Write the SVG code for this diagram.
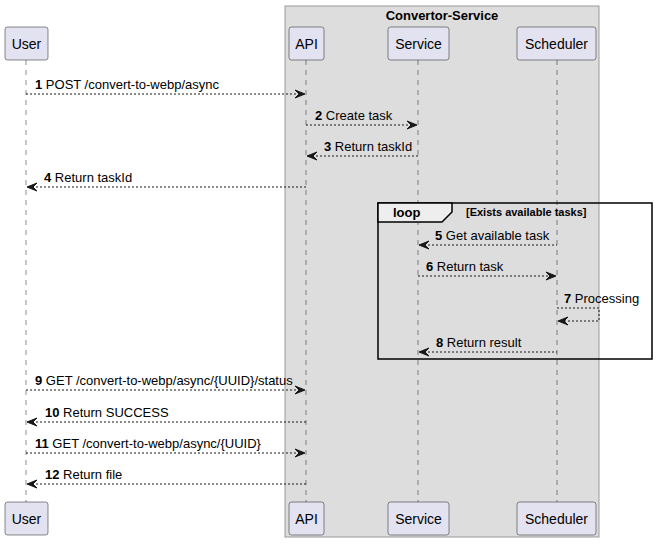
<svg xmlns="http://www.w3.org/2000/svg" width="656" height="544" viewBox="0 0 656 544">
<style>
text{font-family:"Liberation Sans",Arial,sans-serif;fill:#000}
.pbox{fill:#E2E2F0;stroke:#181818;stroke-width:0.5}
.pname{font-size:14px;text-anchor:middle}
.life{stroke:#181818;stroke-width:0.5;stroke-dasharray:5,5;fill:none}
.msg{stroke:#181818;stroke-width:1;stroke-dasharray:2,2;fill:none}
.head{fill:#181818;stroke:#181818;stroke-width:1}
.lbl{font-size:13px}
.num{font-weight:bold}
</style>
<rect width="656" height="544" fill="#FFFFFF"/>
<g id="box-convertor-service">
<rect x="285" y="6" width="314" height="531" fill="#DDDDDD" stroke="#999999" stroke-width="1"/>
<text x="442" y="20" font-size="13" font-weight="bold" text-anchor="middle">Convertor-Service</text>
</g>
<g id="lifelines">
<line class="life" x1="26" y1="60" x2="26" y2="502"/>
<line class="life" x1="306" y1="60" x2="306" y2="502"/>
<line class="life" x1="418" y1="60" x2="418" y2="502"/>
<line class="life" x1="557" y1="60" x2="557" y2="502"/>
</g>
<g id="user">
<rect class="pbox" x="5" y="27" width="43" height="33" rx="2.5"/>
<text class="pname" x="26.5" y="48.5">User</text>
<rect class="pbox" x="5" y="502" width="43" height="33" rx="2.5"/>
<text class="pname" x="26.5" y="523.5">User</text>
</g>
<g id="api">
<rect class="pbox" x="289" y="27" width="35" height="33" rx="2.5"/>
<text class="pname" x="306.5" y="48.5">API</text>
<rect class="pbox" x="289" y="502" width="35" height="33" rx="2.5"/>
<text class="pname" x="306.5" y="523.5">API</text>
</g>
<g id="service">
<rect class="pbox" x="388" y="27" width="61" height="33" rx="2.5"/>
<text class="pname" x="418.5" y="48.5">Service</text>
<rect class="pbox" x="388" y="502" width="61" height="33" rx="2.5"/>
<text class="pname" x="418.5" y="523.5">Service</text>
</g>
<g id="scheduler">
<rect class="pbox" x="517" y="27" width="79" height="33" rx="2.5"/>
<text class="pname" x="556.5" y="48.5">Scheduler</text>
<rect class="pbox" x="517" y="502" width="79" height="33" rx="2.5"/>
<text class="pname" x="556.5" y="523.5">Scheduler</text>
</g>
<g id="loop">
<rect x="378" y="203" width="274" height="156" fill="none" stroke="#000000" stroke-width="1.5"/>
<polygon points="378,203 452,203 452,212 442,222 378,222" fill="#EEEEEE" stroke="#000000" stroke-width="1.5"/>
<text x="393" y="217" font-size="13" font-weight="bold">loop</text>
<text x="466" y="216" font-size="11" font-weight="bold">[Exists available tasks]</text>
</g>
<g id="connectors">
<!-- 1 -->
<line class="msg" x1="26" y1="94" x2="304" y2="94"/>
<polygon class="head" points="295,90 305,94 295,98 299,94"/>
<text class="lbl" x="35" y="89"><tspan class="num">1</tspan> POST /convert-to-webp/async</text>
<!-- 2 -->
<line class="msg" x1="306" y1="125" x2="416" y2="125"/>
<polygon class="head" points="407,121 417,125 407,129 411,125"/>
<text class="lbl" x="315" y="120"><tspan class="num">2</tspan> Create task</text>
<!-- 3 -->
<line class="msg" x1="308" y1="156" x2="418" y2="156"/>
<polygon class="head" points="317,152 307,156 317,160 313,156"/>
<text class="lbl" x="324" y="151"><tspan class="num">3</tspan> Return taskId</text>
<!-- 4 -->
<line class="msg" x1="28" y1="187" x2="306" y2="187"/>
<polygon class="head" points="37,183 27,187 37,191 33,187"/>
<text class="lbl" x="44" y="182"><tspan class="num">4</tspan> Return taskId</text>
<!-- 5 -->
<line class="msg" x1="420" y1="245" x2="557" y2="245"/>
<polygon class="head" points="429,241 419,245 429,249 425,245"/>
<text class="lbl" x="435" y="240"><tspan class="num">5</tspan> Get available task</text>
<!-- 6 -->
<line class="msg" x1="418" y1="276" x2="555" y2="276"/>
<polygon class="head" points="546,272 556,276 546,280 550,276"/>
<text class="lbl" x="426" y="271"><tspan class="num">6</tspan> Return task</text>
<!-- 7 -->
<polyline class="msg" points="557,308 599,308 599,321 559,321"/>
<polygon class="head" points="568,317 558,321 568,325 564,321"/>
<text class="lbl" x="564" y="303"><tspan class="num">7</tspan> Processing</text>
<!-- 8 -->
<line class="msg" x1="420" y1="352" x2="557" y2="352"/>
<polygon class="head" points="429,348 419,352 429,356 425,352"/>
<text class="lbl" x="436" y="347"><tspan class="num">8</tspan> Return result</text>
<!-- 9 -->
<line class="msg" x1="26" y1="390" x2="304" y2="390"/>
<polygon class="head" points="295,386 305,390 295,394 299,390"/>
<text class="lbl" x="35" y="385"><tspan class="num">9</tspan> GET /convert-to-webp/async/{UUID}/status</text>
<!-- 10 -->
<line class="msg" x1="28" y1="422" x2="306" y2="422"/>
<polygon class="head" points="37,418 27,422 37,426 33,422"/>
<text class="lbl" x="45" y="417"><tspan class="num">10</tspan> Return SUCCESS</text>
<!-- 11 -->
<line class="msg" x1="26" y1="453" x2="304" y2="453"/>
<polygon class="head" points="295,449 305,453 295,457 299,453"/>
<text class="lbl" x="35" y="448"><tspan class="num">11</tspan> GET /convert-to-webp/async/{UUID}</text>
<!-- 12 -->
<line class="msg" x1="28" y1="484" x2="306" y2="484"/>
<polygon class="head" points="37,480 27,484 37,488 33,484"/>
<text class="lbl" x="45" y="479"><tspan class="num">12</tspan> Return file</text>
</g>
</svg>
